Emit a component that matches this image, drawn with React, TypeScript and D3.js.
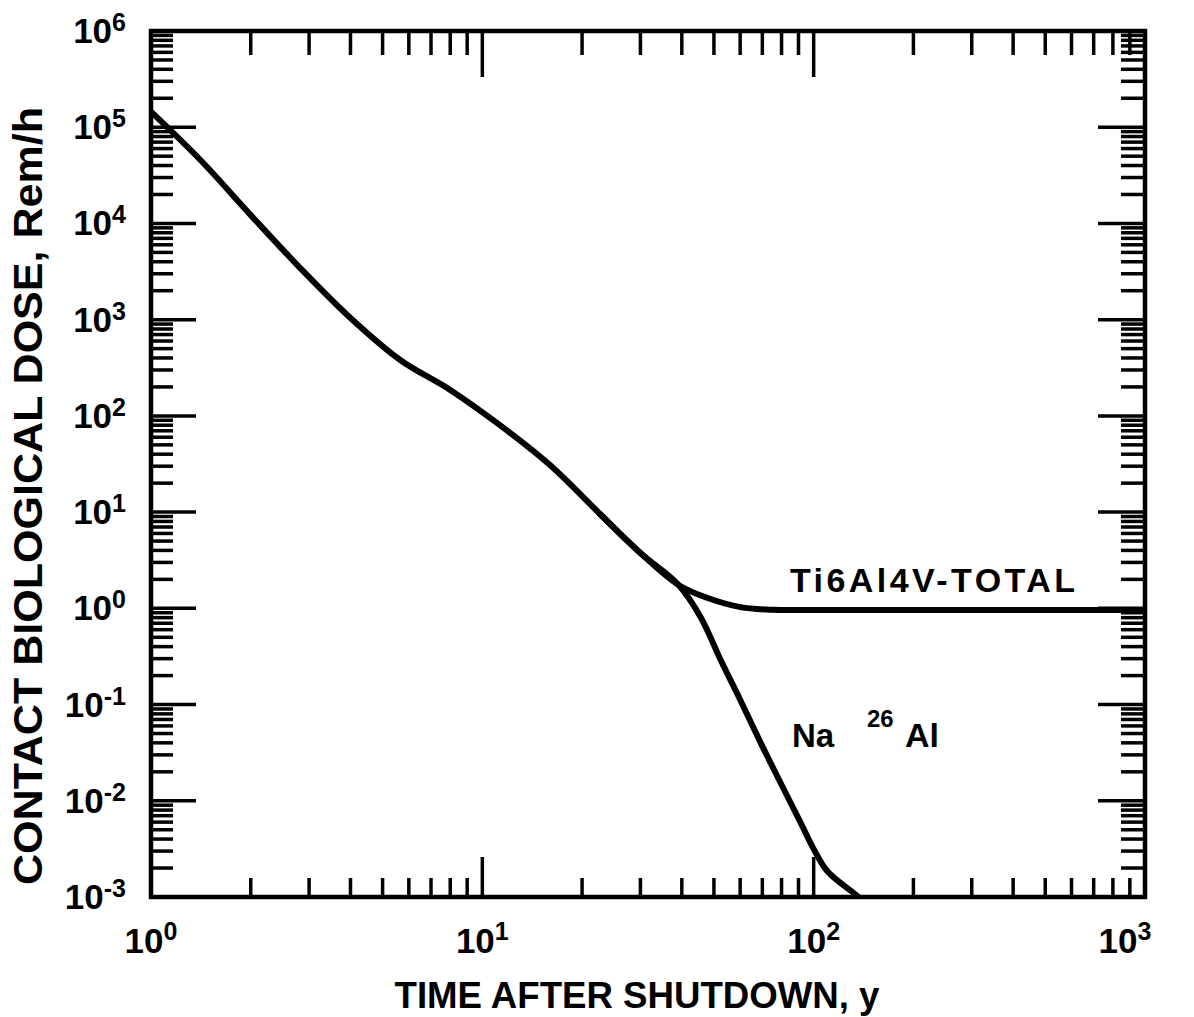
import React from "react";
import * as d3 from "d3";

// Total contact dose of Ti6Al4V after shutdown
const timeTotal = [1, 1.41, 2.0, 2.82, 4.0, 5.65, 8.0, 11.3, 16.0, 22.7, 30.0, 39.1, 47.9, 60.1, 75.7, 100, 1000];
const doseTotal = [1.45e5, 4.56e4, 1.22e4, 3.44e3, 1.04e3, 381, 186, 80, 30.8, 9.5, 3.76, 1.75, 1.28, 1.03, 0.965, 0.96, 0.96];

// Na + 26Al contribution (follows the total, then branches off near 40 y)
const timeNa = [22.7, 30.0, 39.1, 45.6, 52.4, 60.1, 69.2, 79.5, 91.4, 99.3, 110, 132, 142];
const doseNa = [9.5, 3.76, 1.75, 0.81, 0.29, 0.111, 0.04, 0.0153, 0.0059, 0.0033, 0.00185, 0.0011, 0.0009];

const xDecades = [0, 1, 2, 3];
const yDecades = [-3, -2, -1, 0, 1, 2, 3, 4, 5, 6];

const W = 1194;
const H = 1017;
const FONT = "'Liberation Sans', Arial, sans-serif";

export default function App() {
  const left = 151, right = 1145, top = 31, bottom = 897;
  const x = d3.scaleLog().domain([1, 1000]).range([left, right]);
  const y = d3.scaleLog().domain([1e-3, 1e6]).range([bottom, top]);

  const line = d3
    .line<[number, number]>()
    .x((d) => x(d[0]))
    .y((d) => y(d[1]))
    .curve(d3.curveCatmullRom.alpha(0.5));

  const totalPts = timeTotal.map((t, i) => [t, doseTotal[i]] as [number, number]);
  const naPts = timeNa.map((t, i) => [t, doseNa[i]] as [number, number]);

  // minor tick values
  const xMinor: number[] = [];
  for (let e = 0; e < 3; e++) for (let m = 2; m <= 9; m++) xMinor.push(m * Math.pow(10, e));
  const yMinor: number[] = [];
  for (let e = -3; e < 6; e++) for (let m = 2; m <= 9; m++) yMinor.push(m * Math.pow(10, e));

  const tickStroke = 3.5;

  return (
    <svg
      width={W}
      height={H}
      style={{ position: "absolute", left: 0, top: 0, background: "#fff" }}
      fontFamily={FONT}
      fontWeight="bold"
    >
      <defs>
        <clipPath id="plotClip">
          <rect x={left} y={top} width={right - left} height={bottom - top} />
        </clipPath>
      </defs>
      <rect x={0} y={0} width={W} height={H} fill="#fff" />

      {/* left & right minor/major ticks */}
      {yMinor.map((v) => (
        <g key={"ym" + v} stroke="#000" strokeWidth={tickStroke}>
          <line x1={left} x2={left + 22} y1={y(v)} y2={y(v)} />
          <line x1={right} x2={right - 24} y1={y(v)} y2={y(v)} />
        </g>
      ))}
      {yDecades.map((e) => (
        <g key={"yM" + e} stroke="#000" strokeWidth={tickStroke}>
          <line x1={left} x2={left + 45} y1={y(Math.pow(10, e))} y2={y(Math.pow(10, e))} />
          <line x1={right} x2={right - 47} y1={y(Math.pow(10, e))} y2={y(Math.pow(10, e))} />
        </g>
      ))}

      {/* top & bottom ticks */}
      {xMinor.map((v) => (
        <g key={"xm" + v} stroke="#000" strokeWidth={tickStroke}>
          <line x1={x(v)} x2={x(v)} y1={top} y2={top + 24} />
          <line x1={x(v)} x2={x(v)} y1={bottom} y2={bottom - 19} />
        </g>
      ))}
      {xDecades.map((e) => (
        <g key={"xM" + e} stroke="#000" strokeWidth={tickStroke}>
          <line x1={x(Math.pow(10, e))} x2={x(Math.pow(10, e))} y1={top} y2={top + 46} />
          <line x1={x(Math.pow(10, e))} x2={x(Math.pow(10, e))} y1={bottom} y2={bottom - 40} />
        </g>
      ))}

      {/* frame */}
      <rect
        x={left}
        y={top}
        width={right - left}
        height={bottom - top}
        fill="none"
        stroke="#000"
        strokeWidth={4.5}
      />

      {/* curves */}
      <g clipPath="url(#plotClip)" fill="none" stroke="#000" strokeWidth={6} strokeLinecap="round" strokeLinejoin="round">
        <path d={line(totalPts) || ""} />
        <path d={line(naPts) || ""} />
      </g>

      {/* y tick labels */}
      {yDecades.map((e) => (
        <text key={"yl" + e} x={126} y={y(Math.pow(10, e)) + 12} textAnchor="end" fontSize={35} fill="#000">
          <tspan>10</tspan>
          <tspan dy={-12} fontSize={25}>
            {String(e)}
          </tspan>
        </text>
      ))}

      {/* x tick labels */}
      {xDecades.map((e) => (
        <text
          key={"xl" + e}
          x={Math.min(x(Math.pow(10, e)), 1125)}
          y={953}
          textAnchor="middle"
          fontSize={35}
          fill="#000"
        >
          <tspan>10</tspan>
          <tspan dy={-13} fontSize={25}>
            {String(e)}
          </tspan>
        </text>
      ))}

      {/* axis titles */}
      <text x={637} y={1008} textAnchor="middle" fontSize={36} textLength={485} lengthAdjust="spacingAndGlyphs">
        TIME AFTER SHUTDOWN, y
      </text>
      <text
        transform="translate(42,496) rotate(-90)"
        textAnchor="middle"
        fontSize={40}
        textLength={778}
        lengthAdjust="spacingAndGlyphs"
      >
        CONTACT BIOLOGICAL DOSE,  Rem/h
      </text>

      {/* curve labels */}
      <text x={790} y={592} fontSize={34} textLength={285} lengthAdjust="spacing">
        Ti6Al4V-TOTAL
      </text>
      <text x={792} y={747} fontSize={33}>
        Na
      </text>
      <text x={867} y={727} fontSize={24}>
        26
      </text>
      <text x={905} y={747} fontSize={34}>
        Al
      </text>
    </svg>
  );
}
